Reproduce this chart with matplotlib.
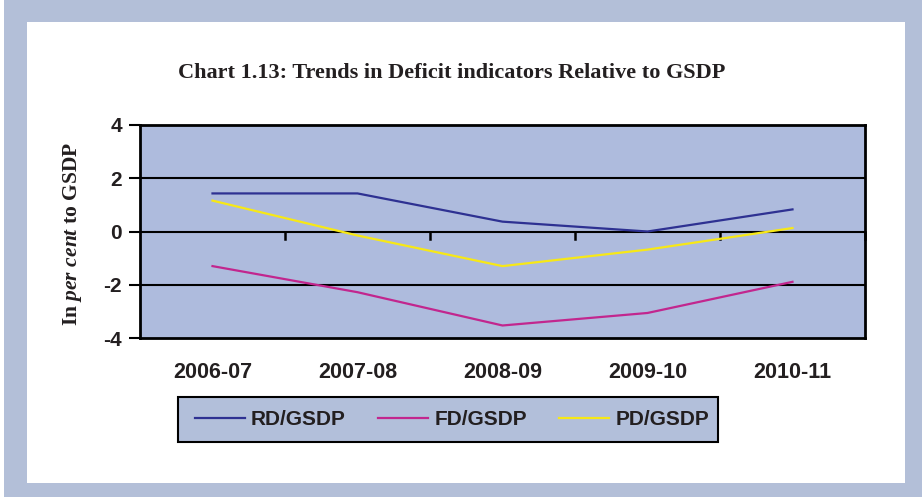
import matplotlib
matplotlib.use("Agg")
import matplotlib.pyplot as plt
from matplotlib.patches import Rectangle

categories = ["2006-07", "2007-08", "2008-09", "2009-10", "2010-11"]
rd_gsdp = [1.43, 1.43, 0.37, 0.0, 0.83]
fd_gsdp = [-1.30, -2.28, -3.53, -3.06, -1.89]
pd_gsdp = [1.16, -0.15, -1.30, -0.68, 0.13]
yticks = [-4, -2, 0, 2, 4]

plt.rcParams['mathtext.fontset'] = 'custom'
plt.rcParams['mathtext.it'] = 'Liberation Serif:bold:italic'
plt.rcParams['mathtext.rm'] = 'Liberation Serif:bold'

W, H = 922, 497
fig = plt.figure(figsize=(W/100, H/100), dpi=100)
fig.patch.set_facecolor("white")

# outer frame
border = "#B3BFD8"
fig.patches.append(Rectangle((4/W, 0), 1 - 4/W, 1, transform=fig.transFigure,
                             facecolor=border, edgecolor="none", zorder=-2))
fig.patches.append(Rectangle((27/W, 14/H), (905-27)/W, (475-14)/H, transform=fig.transFigure,
                             facecolor="white", edgecolor="none", zorder=-1))

left, right, top, bottom = 140, 865, 125, 338
ax = fig.add_axes([left/W, 1 - bottom/H, (right-left)/W, (bottom-top)/H])
ax.set_zorder(1)
ax.set_facecolor("#AEBBDD")

txtcol = "#231F20"
x = list(range(len(categories)))
l1, = ax.plot(x, rd_gsdp, color="#2E3192", lw=1.6, label="RD/GSDP", zorder=3)
l2, = ax.plot(x, fd_gsdp, color="#C2268E", lw=1.6, label="FD/GSDP", zorder=3)
l3, = ax.plot(x, pd_gsdp, color="#F7E816", lw=1.6, label="PD/GSDP", zorder=3)

ax.set_xlim(-0.5, len(categories) - 0.5)
ax.set_ylim(-4, 4)
ax.set_yticks(yticks)
ax.set_yticklabels([str(v) for v in yticks], fontfamily="Liberation Sans",
                   fontweight="bold", fontsize=15, color=txtcol)
for v in yticks:
    if v not in (-4, 4):
        ax.axhline(v, color="black", lw=1.5, zorder=2)
ax.tick_params(axis="y", direction="out", length=8, width=1.5, pad=5)

ax.set_xticks(x)
ax.set_xticklabels([])
ax.tick_params(axis="x", length=0)
# category boundary ticks on the zero axis
for b in range(1, len(categories) + 1):
    ax.plot([b - 0.5, b - 0.5], [0, -0.3], color="black", lw=1.8, zorder=2,
            clip_on=False)
for xi, c in zip(x, categories):
    ax.annotate(c, xy=(xi, 0), xycoords=("data", "axes fraction"),
                xytext=(0, -34), textcoords="offset pixels",
                ha="center", va="center", fontfamily="Liberation Sans",
                fontweight="bold", fontsize=15.5, color=txtcol)

for s in ax.spines.values():
    s.set_linewidth(2)
    s.set_color("black")

fig.text(452/W, 1 - 73/H, "Chart 1.13: Trends in Deficit indicators Relative to GSDP",
         ha="center", va="center", fontfamily="Liberation Serif", fontweight="bold",
         fontsize=16, color=txtcol)

fig.text(73/W, 1 - 234/H, r"In $\it{per\ cent}$ to GSDP", rotation=90,
         ha="center", va="center", fontfamily="Liberation Serif", fontweight="bold",
         fontsize=15.5, color=txtcol)

# legend box
fig.patches.append(Rectangle((178/W, 1 - 442/H), (718-178)/W, (442-397)/H,
                             transform=fig.transFigure, facecolor="#B2BFDA",
                             edgecolor="black", lw=1.5, zorder=2))
leg = fig.legend(handles=[l1, l2, l3], loc="center",
                 bbox_to_anchor=(452/W, 1 - 419.5/H), ncol=3, frameon=False,
                 prop={"family": "Liberation Sans", "weight": "bold", "size": 15},
                 handlelength=2.4, columnspacing=1.55, borderpad=0.3, handletextpad=0.3)
leg.set_zorder(3)
for t in leg.get_texts():
    t.set_color(txtcol)

fig.savefig("out.png", dpi=100)
